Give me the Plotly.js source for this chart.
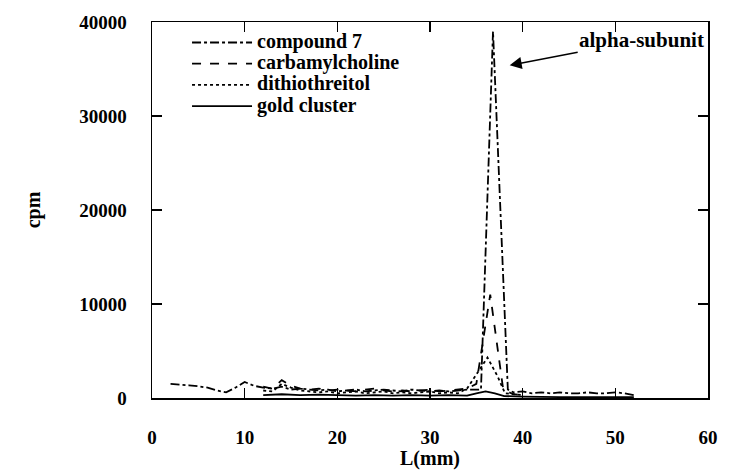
<!DOCTYPE html>
<html>
<head>
<meta charset="utf-8">
<script src="https://cdn.plot.ly/plotly-3.0.1.min.js"></script>
<style>html,body{margin:0;padding:0;background:#fff;}#chart{width:732px;height:470px;}</style>
</head>
<body>
<div id="chart"></div>
<script>
// Series data (L in mm, cpm)
const seriesNames = ["compound 7", "carbamylcholine", "dithiothreitol", "gold cluster"];

const compound7X = [2,3,4,5,6,7,8,9,10,11,12,13,14,15,16,17,18,19,20,21,22,23,24,25,26,27,28,29,30,31,32,33,34,35.5,36.8,38.4,39,40,41,42,43,44,45,46,47,48,49,50,51,52];
const compound7Y = [1500,1450,1350,1250,1100,800,600,1100,1700,1300,1100,1000,1200,900,1000,900,800,900,700,800,900,700,800,900,800,700,900,800,700,800,700,800,900,900,39000,900,600,700,500,600,500,600,500,500,600,500,500,600,500,300];

const carbamylX = [12,13,14,15,16,17,18,19,20,21,22,23,24,25,26,27,28,29,30,31,32,33,34,35,36.5,37.9,39,40];
const carbamylY = [1200,1000,1900,1300,1000,900,1000,800,900,800,700,900,1000,800,700,800,700,800,900,700,800,900,1000,1500,11000,900,400,300];

const dttX = [12,13,14,15,16,17,18,19,20,21,22,23,24,25,26,27,28,29,30,31,32,33,34,35,36.2,37.3,38.1,40];
const dttY = [800,700,1500,1100,800,700,600,700,500,600,700,500,600,700,500,600,500,600,700,500,600,500,1000,2500,4300,2300,500,300];

const goldX = [12,14,16,18,20,22,24,26,28,30,32,34,35,36,37,38,40,42,44,46,48,50,52];
const goldY = [300,400,300,350,300,250,300,250,300,250,300,250,500,700,500,200,150,100,100,100,100,100,100];

const xTickVals = [0,10,20,30,40,50,60];
const yTickVals = [0,10000,20000,30000,40000];

const FONT = "Liberation Serif, Times New Roman, serif";
const dashes = ["dashdot", "dash", "dot", "solid"];
const xs = [compound7X, carbamylX, dttX, goldX];
const ys = [compound7Y, carbamylY, dttY, goldY];

const traces = seriesNames.map((n, i) => ({
  x: xs[i], y: ys[i], type: "scatter", mode: "lines",
  name: '<span style="font-size:20px">' + n + '</span>',
  line: {color: "#000", width: 1.8, dash: dashes[i]}
}));

const axisCommon = {
  showgrid: false, zeroline: false, showline: true, linecolor: "#000", linewidth: 1.5,
  mirror: "ticks", ticks: "inside", ticklen: 10, tickwidth: 1.2, tickcolor: "#000",
  tickfont: {family: FONT, size: 19, color: "#000", weight: "bold"}
};

const layout = {
  width: 732, height: 470,
  margin: {l: 152, r: 24, t: 22, b: 72},
  paper_bgcolor: "#fff", plot_bgcolor: "#fff",
  showlegend: true,
  legend: {x: 0.063, y: 0.987, xanchor: "left", yanchor: "top", bgcolor: "rgba(0,0,0,0)",
           itemwidth: 60,
           font: {family: FONT, size: 14, color: "#000", weight: "bold"}, tracegroupgap: 0},
  xaxis: Object.assign({}, axisCommon, {
    range: [0, 60], tickvals: xTickVals, ticktext: xTickVals.map(String),
    ticklabelstandoff: 22,
    title: {text: "L(mm)", font: {family: FONT, size: 20, color: "#000", weight: "bold"}, standoff: 0}
  }),
  yaxis: Object.assign({}, axisCommon, {
    range: [0, 40000], tickvals: yTickVals, ticktext: yTickVals.map(String),
    ticklabelstandoff: 20,
    title: {text: "cpm", font: {family: FONT, size: 20, color: "#000", weight: "bold"}, standoff: 33}
  }),
  annotations: [{
    x: 38.6, y: 35400, xref: "x", yref: "y",
    text: "alpha-subunit", showarrow: true, ax: 132, ay: -25,
    arrowhead: 2, arrowsize: 1.6, arrowwidth: 1.5, arrowcolor: "#000",
    font: {family: FONT, size: 21, color: "#000", weight: "bold"}
  }]
};

Plotly.newPlot("chart", traces, layout, {displayModeBar: false, staticPlot: true});
</script>
</body>
</html>
